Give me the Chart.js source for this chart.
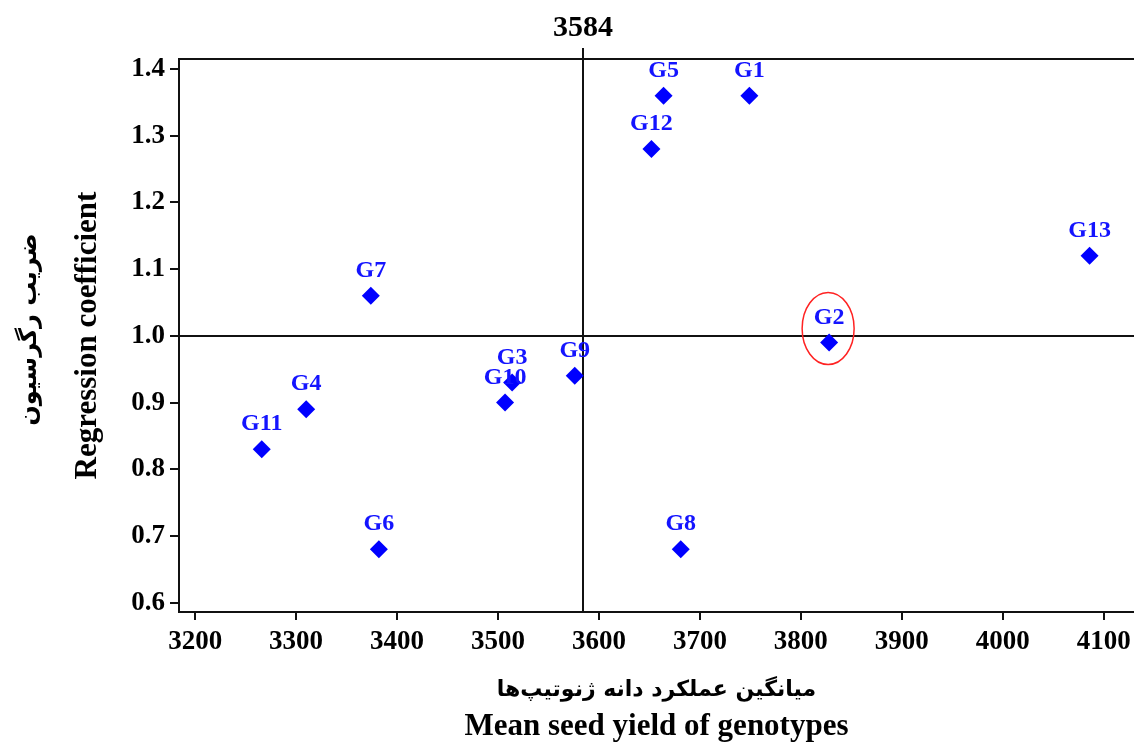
<!DOCTYPE html>
<html>
<head>
<meta charset="utf-8">
<script src="https://cdn.jsdelivr.net/npm/chart.js@4.4.1/dist/chart.umd.min.js"></script>
<style>
  body { margin: 0; background: #fff; }
  #wrap { width: 1134px; height: 745px; }
</style>
</head>
<body>
<div id="wrap"><canvas id="yieldChart" width="1134" height="745"></canvas></div>
<script>
var genotypes = ["G1", "G2", "G3", "G4", "G5", "G6", "G7", "G8", "G9", "G10", "G11", "G12", "G13"];
var meanYield = [3749, 3828, 3514, 3310, 3664, 3382, 3374, 3681, 3576, 3507, 3266, 3652, 4086];
var regCoef = [1.36, 0.99, 0.93, 0.89, 1.36, 0.68, 1.06, 0.68, 0.94, 0.90, 0.83, 1.28, 1.12];
var xTicks = [3200, 3300, 3400, 3500, 3600, 3700, 3800, 3900, 4000, 4100];
var yTicks = [0.6, 0.7, 0.8, 0.9, 1.0, 1.1, 1.2, 1.3, 1.4];
var grandMean = 3584;
var refCoef = 1.0;
var circled = "G2";

var serif = "'Liberation Serif', 'Times New Roman', serif";
var persian = "'DejaVu Sans', sans-serif";

// reference lines, frame, labels and axis titles
var decorations = {
  id: "decorations",
  beforeDatasetsDraw: function (chart) {
    var ctx = chart.ctx;
    var area = chart.chartArea;
    var mx = Math.round(chart.scales.x.getPixelForValue(grandMean));
    var my = Math.round(chart.scales.y.getPixelForValue(refCoef));
    ctx.save();
    ctx.strokeStyle = "#111";
    ctx.lineWidth = 2;
    ctx.beginPath();
    ctx.moveTo(area.left, area.top);
    ctx.lineTo(area.right, area.top);
    ctx.moveTo(mx, area.top - 11);
    ctx.lineTo(mx, area.bottom);
    ctx.moveTo(area.left, my);
    ctx.lineTo(area.right, my);
    ctx.stroke();

    ctx.fillStyle = "#000";
    ctx.font = "bold 30px " + serif;
    ctx.textAlign = "center";
    ctx.textBaseline = "middle";
    ctx.fillText(String(grandMean), mx, 28);
    ctx.restore();
  },
  afterDatasetsDraw: function (chart) {
    var ctx = chart.ctx;
    var meta = chart.getDatasetMeta(0);
    ctx.save();
    ctx.font = "bold 24px " + serif;
    ctx.fillStyle = "#1414ff";
    ctx.textAlign = "center";
    ctx.textBaseline = "middle";
    meta.data.forEach(function (pt, i) {
      ctx.fillText(genotypes[i], pt.x, pt.y - 25);
      if (genotypes[i] === circled) {
        ctx.beginPath();
        ctx.ellipse(pt.x - 1, pt.y - 14, 26, 36, 0, 0, Math.PI * 2);
        ctx.strokeStyle = "#f22";
        ctx.lineWidth = 1.5;
        ctx.stroke();
      }
    });
    ctx.restore();
  },
  afterDraw: function (chart) {
    var ctx = chart.ctx;
    var area = chart.chartArea;
    var cx = (area.left + area.right) / 2;
    var cy = (area.top + area.bottom) / 2;
    ctx.save();
    ctx.fillStyle = "#000";
    ctx.textAlign = "center";
    ctx.textBaseline = "middle";

    ctx.font = "bold 22px " + persian;
    ctx.fillText("میانگین عملکرد دانه ژنوتیپ‌ها", cx, 690);
    ctx.font = "bold 31px " + serif;
    ctx.fillText("Mean seed yield of genotypes", cx, 727);

    ctx.translate(88, cy);
    ctx.rotate(-Math.PI / 2);
    ctx.fillText("Regression coefficient", 0, 0);
    ctx.font = "bold 24px " + persian;
    ctx.fillText("ضریب رگرسیون", 6, -58);
    ctx.restore();
  }
};

var tickFont = { family: serif, size: 27, weight: "bold" };

new Chart(document.getElementById("yieldChart"), {
  type: "scatter",
  data: {
    datasets: [
      {
        label: "Genotypes",
        data: genotypes.map(function (g, i) {
          return { x: meanYield[i], y: regCoef[i] };
        }),
        pointStyle: "rectRot",
        pointRadius: 9,
        pointHoverRadius: 9,
        borderWidth: 0,
        backgroundColor: "#0000ff",
        borderColor: "#0000ff",
      },
    ],
  },
  options: {
    responsive: false,
    animation: false,
    layout: { autoPadding: false, padding: { top: 59, right: 0, bottom: 0, left: 0 } },
    scales: {
      x: {
        type: "linear",
        min: 3184,
        max: 4130,
        afterBuildTicks: function (scale) {
          scale.ticks = xTicks.map(function (v) { return { value: v }; });
        },
        afterFit: function (scale) {
          scale.height = 133;
          scale.paddingLeft = 0;
          scale.paddingRight = 0;
        },
        grid: { display: true, drawOnChartArea: false, drawTicks: true, tickLength: 8, color: "#111", lineWidth: 2 },
        border: { display: true, color: "#111", width: 2 },
        ticks: {
          color: "#000",
          font: tickFont,
          padding: 6,
          maxRotation: 0,
          autoSkip: false,
          callback: function (v) { return String(v); },
        },
      },
      y: {
        type: "linear",
        min: 0.586,
        max: 1.415,
        afterBuildTicks: function (scale) {
          scale.ticks = yTicks.map(function (v) { return { value: v }; });
        },
        afterFit: function (scale) {
          scale.width = 179;
          scale.paddingTop = 0;
          scale.paddingBottom = 0;
        },
        grid: { display: true, drawOnChartArea: false, drawTicks: true, tickLength: 9, color: "#111", lineWidth: 2 },
        border: { display: true, color: "#111", width: 2 },
        ticks: {
          color: "#000",
          font: tickFont,
          padding: 5,
          autoSkip: false,
          callback: function (v) { return v.toFixed(1); },
        },
      },
    },
    plugins: {
      legend: { display: false },
      tooltip: { enabled: false },
    },
  },
  plugins: [decorations],
});
</script>
</body>
</html>
